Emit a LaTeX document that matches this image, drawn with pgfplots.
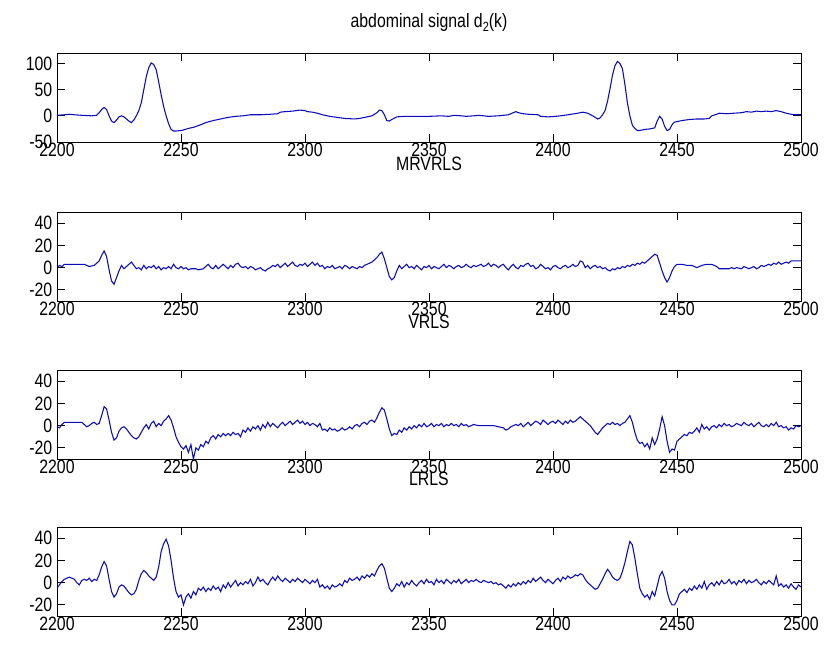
\documentclass[border=0pt]{standalone}
\usepackage{fontspec}
\setmainfont{Liberation Sans}[FakeStretch=0.82]
\usepackage{pgfplots}
\pgfplotsset{compat=1.18}

% one MATLAB-like subplot style
\pgfplotsset{
  sig/.style={
    scale only axis, width=558pt, height=66.75pt,
    anchor=north west, clip mode=individual,
    xmin=2200, xmax=2500, xtick={2200,2250,...,2500},
    tick align=inside, major tick length=6pt,
    tick label style={font=\fontsize{14.5}{14.5}\selectfont},
    xticklabel style={inner sep=1pt, yshift=0.7pt},
    /pgf/number format/assume math mode=true,
    /pgf/number format/1000 sep={},
    axis line style={line width=0.6pt},
    every tick/.style={line width=0.6pt, black},
  },
  trace/.style={color={rgb,255:red,10;green,10;blue,190}, line width=0.8pt, mark=none},
}
\tikzset{ttl/.style={anchor=base, inner sep=0pt, font=\fontsize{14.5}{14.5}\selectfont}}

\begin{document}
\begin{tikzpicture}
% page size of the reference (827x650 px at 0.75pt/px)
\useasboundingbox (-42.75pt,39.75pt) rectangle (577.5pt,-447.75pt);

\begin{axis}[sig, at={(0pt,0pt)}, ymin=-50, ymax=120, ytick={-50,0,50,100}]
\addplot[trace] coordinates {
(2200,1) (2203,2) (2205,3) (2207,2) (2210,1) (2214,0) (2216,1) (2217,6) (2218,12) (2219,16)
(2220,12) (2221,0) (2222,-10) (2223,-13) (2224,-8) (2225,-2) (2226,0) (2227,-2) (2228,-6) (2229,-10)
(2230,-13) (2231,-8) (2232,0) (2233,10) (2234,25) (2235,50) (2236,75) (2237,92) (2238,101) (2239,98)
(2240,88) (2241,65) (2242,40) (2243,18) (2244,0) (2245,-15) (2246,-26) (2247,-29) (2248,-29) (2250,-28)
(2251,-27) (2253,-24) (2255,-22) (2258,-17) (2260,-13) (2263,-9) (2266,-6) (2269,-3) (2272,-1) (2275,0)
(2278,2) (2282,2) (2286,3) (2289,4) (2290,7) (2292,8) (2295,9) (2298,11) (2300,10) (2301,8)
(2303,7) (2305,5) (2307,2) (2310,-1) (2313,-3) (2316,-5) (2320,-6) (2322,-5) (2325,-2) (2327,0)
(2329,6) (2330,11) (2331,10) (2332,2) (2333,-9) (2334,-10) (2335,-7) (2337,-2) (2340,-1) (2345,-1)
(2350,-1) (2355,0) (2358,-1) (2360,1) (2363,0) (2365,-1) (2368,0) (2370,1) (2374,-1) (2378,0)
(2382,2) (2384,6) (2385,8) (2386,6) (2388,4) (2390,3) (2394,2) (2395,-1) (2398,-2) (2401,-1)
(2403,0) (2406,2) (2410,5) (2412,7) (2414,5) (2416,0) (2418,-6) (2419,-4) (2420,2) (2421,10)
(2422,28) (2423,52) (2424,78) (2425,96) (2426,104) (2427,100) (2428,90) (2429,60) (2430,25) (2431,0)
(2432,-18) (2433,-24) (2434,-28) (2435,-28) (2437,-26) (2439,-25) (2441,-23) (2442,-10) (2443,-1) (2444,-6)
(2445,-20) (2446,-28) (2447,-26) (2448,-17) (2449,-12) (2452,-9) (2455,-7) (2458,-6) (2461,-6) (2463,-5)
(2464,0) (2466,3) (2467,5) (2470,4) (2473,5) (2476,6) (2478,8) (2480,7) (2482,9) (2484,8)
(2486,9) (2488,8) (2490,10) (2492,8) (2494,5) (2496,3) (2498,2) (2500,2)
};
\node[ttl] at (rel axis cs:0.5,1) [yshift=19.5pt] {abdominal signal d\raisebox{-0.45ex}{\fontsize{10}{10}\selectfont 2}(k)};
\end{axis}

\begin{axis}[sig, at={(0pt,-119.25pt)}, ymin=-30, ymax=50, ytick={-20,0,20,40}]
\addplot[trace] coordinates {
(2200,0) (2201,2) (2202,1) (2203,3) (2205,3) (2207,3) (2209,3) (2211,3) (2213,1) (2215,2)
(2216,4) (2217,6) (2218,11) (2219,15) (2220,10) (2221,-2) (2222,-12) (2223,-15) (2224,-9) (2225,-3)
(2226,2) (2227,-1) (2228,1) (2229,3) (2230,5) (2231,2) (2232,-1) (2233,0) (2234,-2) (2235,2)
(2236,-1) (2237,1) (2238,0) (2239,2) (2240,-1) (2241,1) (2242,-2) (2243,0) (2244,-1) (2245,1)
(2246,-1) (2247,3) (2248,0) (2249,-1) (2250,1) (2251,-1) (2252,0) (2253,-2) (2254,-1) (2256,-1)
(2257,-2) (2259,-1) (2260,1) (2261,3) (2262,0) (2263,-1) (2264,2) (2265,-1) (2266,1) (2267,3)
(2268,1) (2269,-1) (2270,2) (2271,0) (2272,3) (2273,4) (2274,1) (2275,0) (2276,1) (2277,-1)
(2278,1) (2279,0) (2280,-2) (2281,-1) (2282,0) (2283,-2) (2284,-3) (2285,-1) (2286,0) (2287,2)
(2288,1) (2289,3) (2290,0) (2291,2) (2292,4) (2293,1) (2294,3) (2295,5) (2296,2) (2297,1)
(2298,3) (2299,2) (2300,4) (2301,1) (2302,3) (2303,5) (2304,2) (2305,4) (2306,1) (2307,2)
(2308,-1) (2309,1) (2310,0) (2311,2) (2312,-1) (2313,0) (2314,1) (2315,-1) (2316,2) (2317,1)
(2318,-1) (2319,1) (2320,0) (2321,-1) (2322,1) (2323,0) (2324,2) (2325,3) (2326,4) (2327,5)
(2328,7) (2329,9) (2330,12) (2331,14) (2332,8) (2333,0) (2334,-8) (2335,-11) (2336,-9) (2337,-3)
(2338,2) (2339,-1) (2340,1) (2341,3) (2342,0) (2343,1) (2344,-1) (2345,2) (2346,0) (2347,-2)
(2348,1) (2349,0) (2350,2) (2351,-1) (2352,1) (2353,0) (2354,-1) (2355,1) (2356,3) (2357,0)
(2358,2) (2359,1) (2360,-1) (2361,1) (2362,2) (2363,0) (2364,1) (2365,3) (2366,1) (2367,0)
(2368,2) (2369,1) (2370,2) (2371,3) (2372,1) (2373,2) (2374,4) (2375,1) (2376,3) (2377,2)
(2378,0) (2379,2) (2380,3) (2381,0) (2382,-2) (2383,1) (2384,3) (2385,0) (2386,-1) (2387,2)
(2388,1) (2389,3) (2390,4) (2391,1) (2392,2) (2393,-1) (2394,0) (2395,3) (2396,1) (2397,-1)
(2398,0) (2399,-2) (2400,1) (2401,2) (2402,0) (2403,-1) (2404,1) (2405,2) (2406,0) (2407,1)
(2408,3) (2409,1) (2410,2) (2411,6) (2412,5) (2413,0) (2414,2) (2415,-1) (2416,1) (2417,2)
(2418,0) (2419,1) (2420,-1) (2421,0) (2422,-2) (2423,-3) (2424,-1) (2425,-2) (2426,0) (2427,-1)
(2428,1) (2429,0) (2430,2) (2431,1) (2432,3) (2433,2) (2434,4) (2435,3) (2436,5) (2437,4)
(2438,6) (2439,8) (2440,10) (2441,12) (2442,11) (2443,4) (2444,-3) (2445,-9) (2446,-13) (2447,-9)
(2448,-3) (2449,1) (2450,3) (2452,3) (2454,2) (2456,2) (2457,1) (2458,0) (2459,1) (2460,2)
(2462,3) (2464,3) (2465,2) (2466,1) (2467,-1) (2469,-1) (2471,-1) (2472,0) (2473,-1) (2474,0)
(2476,-1) (2477,1) (2478,0) (2479,-1) (2480,0) (2481,1) (2482,-1) (2483,0) (2484,2) (2485,1)
(2486,2) (2487,3) (2488,2) (2489,4) (2490,3) (2491,5) (2492,3) (2493,4) (2494,5) (2495,4)
(2496,6) (2497,6) (2498,6) (2500,6)
};
\node[ttl] at (rel axis cs:0.5,1) [yshift=31.5pt] {MRVRLS};
\end{axis}

\begin{axis}[sig, at={(0pt,-237.75pt)}, ymin=-30, ymax=50, ytick={-20,0,20,40}]
\addplot[trace] coordinates {
(2200,-1) (2201,-2) (2202,1) (2203,3) (2204,3) (2206,3) (2208,3) (2210,3) (2211,1) (2212,-1)
(2213,0) (2214,2) (2215,3) (2216,1) (2217,2) (2218,9) (2219,17) (2220,15) (2221,5) (2222,-6)
(2223,-13) (2224,-11) (2225,-5) (2226,-2) (2227,-1) (2228,-3) (2229,-6) (2230,-9) (2231,-11) (2232,-12)
(2233,-10) (2234,-6) (2235,-2) (2236,1) (2237,-3) (2238,2) (2239,4) (2240,-1) (2241,2) (2242,0)
(2243,4) (2244,6) (2245,9) (2246,5) (2247,-2) (2248,-10) (2249,-15) (2250,-19) (2251,-21) (2252,-18)
(2253,-24) (2254,-17) (2255,-30) (2256,-20) (2257,-22) (2258,-17) (2259,-19) (2260,-14) (2261,-16) (2262,-11)
(2263,-9) (2264,-12) (2265,-8) (2266,-10) (2267,-7) (2268,-9) (2269,-7) (2270,-9) (2271,-6) (2272,-8)
(2273,-7) (2274,-10) (2275,-4) (2276,-6) (2277,-2) (2278,-5) (2279,-1) (2280,-3) (2281,0) (2282,-4)
(2283,1) (2284,-2) (2285,3) (2286,-1) (2287,2) (2288,0) (2289,-2) (2290,1) (2291,3) (2292,0)
(2293,2) (2294,4) (2295,1) (2296,3) (2297,5) (2298,2) (2299,4) (2300,1) (2301,3) (2302,0)
(2303,2) (2304,1) (2305,-1) (2306,2) (2307,-4) (2308,-3) (2309,-5) (2310,-2) (2311,-4) (2312,-3)
(2313,-5) (2314,-4) (2315,-2) (2316,-4) (2317,-3) (2318,-1) (2319,-3) (2320,0) (2321,1) (2322,-1)
(2323,2) (2324,3) (2325,1) (2326,4) (2327,5) (2328,3) (2329,7) (2330,12) (2331,16) (2332,14)
(2333,6) (2334,-3) (2335,-9) (2336,-7) (2337,-8) (2338,-4) (2339,-6) (2340,-2) (2341,-4) (2342,-1)
(2343,-3) (2344,0) (2345,-2) (2346,1) (2347,-1) (2348,2) (2349,-1) (2350,0) (2351,2) (2352,-1)
(2353,1) (2354,0) (2355,2) (2356,-1) (2357,1) (2358,0) (2359,2) (2360,0) (2361,1) (2362,-1)
(2363,2) (2364,0) (2365,1) (2366,-1) (2367,0) (2368,1) (2370,0) (2372,0) (2374,0) (2376,0)
(2378,-1) (2380,-2) (2381,-4) (2382,-3) (2383,-1) (2384,0) (2385,1) (2386,0) (2387,2) (2388,-1)
(2389,1) (2390,3) (2391,0) (2392,2) (2393,4) (2394,3) (2395,1) (2396,5) (2397,3) (2398,1)
(2399,3) (2400,4) (2401,2) (2402,5) (2403,3) (2404,1) (2405,4) (2406,2) (2407,5) (2408,3)
(2409,4) (2410,6) (2411,8) (2412,6) (2413,4) (2414,2) (2415,0) (2416,-3) (2417,-6) (2418,-8)
(2419,-5) (2420,-2) (2421,0) (2422,2) (2423,1) (2424,3) (2425,1) (2426,2) (2427,0) (2428,2)
(2429,3) (2430,6) (2431,9) (2432,3) (2433,-6) (2434,-13) (2435,-16) (2436,-15) (2437,-19) (2438,-16)
(2439,-21) (2440,-11) (2441,-17) (2442,-12) (2443,-3) (2444,8) (2445,0) (2446,-14) (2447,-24) (2448,-21)
(2449,-22) (2450,-14) (2451,-12) (2452,-10) (2453,-8) (2454,-9) (2455,-6) (2456,-7) (2457,-5) (2458,-2)
(2459,-6) (2460,1) (2461,-3) (2462,-1) (2463,-4) (2464,-1) (2465,0) (2466,-2) (2467,1) (2468,-1)
(2469,2) (2470,0) (2471,1) (2472,-1) (2473,0) (2474,2) (2475,1) (2476,0) (2477,3) (2478,1)
(2479,0) (2480,2) (2481,-1) (2482,1) (2483,3) (2484,0) (2485,-1) (2486,1) (2487,-1) (2488,2)
(2489,0) (2490,3) (2491,-1) (2492,0) (2493,-2) (2494,-1) (2495,-4) (2496,-2) (2497,-3) (2498,0)
(2499,-1) (2500,0)
};
\node[ttl] at (rel axis cs:0.5,1) [yshift=31.5pt] {VRLS};
\end{axis}

\begin{axis}[sig, at={(0pt,-355.5pt)}, ymin=-30, ymax=50, ytick={-20,0,20,40}]
\addplot[trace] coordinates {
(2200,-5) (2201,-2) (2202,1) (2203,3) (2204,4) (2205,5) (2206,4) (2207,3) (2208,0) (2209,-2)
(2210,2) (2211,3) (2212,2) (2213,4) (2214,1) (2215,3) (2216,2) (2217,7) (2218,14) (2219,19)
(2220,15) (2221,3) (2222,-8) (2223,-13) (2224,-10) (2225,-4) (2226,-2) (2227,-3) (2228,-6) (2229,-9)
(2230,-11) (2231,-10) (2232,-6) (2233,2) (2234,8) (2235,11) (2236,9) (2237,6) (2238,4) (2239,2)
(2240,5) (2241,14) (2242,28) (2243,35) (2244,39) (2245,33) (2246,20) (2247,4) (2248,-8) (2249,-13)
(2250,-11) (2251,-20) (2252,-13) (2253,-10) (2254,-14) (2255,-8) (2256,-11) (2257,-5) (2258,-7) (2259,-4)
(2260,-8) (2261,-5) (2262,-7) (2263,-3) (2264,-6) (2265,-4) (2266,-8) (2267,-2) (2268,-5) (2269,0)
(2270,-4) (2271,-1) (2272,2) (2273,-3) (2274,0) (2275,-2) (2276,1) (2277,-1) (2278,3) (2279,-3)
(2280,0) (2281,5) (2282,1) (2283,3) (2284,0) (2285,-2) (2286,2) (2287,5) (2288,2) (2289,6)
(2290,3) (2291,1) (2292,4) (2293,2) (2294,0) (2295,3) (2296,1) (2297,4) (2298,2) (2299,0)
(2300,3) (2301,1) (2302,-1) (2303,2) (2304,0) (2305,3) (2306,-4) (2307,-2) (2308,-5) (2309,-3)
(2310,-6) (2311,-2) (2312,-4) (2313,-3) (2314,-1) (2315,-3) (2316,2) (2317,0) (2318,4) (2319,2)
(2320,3) (2321,5) (2322,2) (2323,6) (2324,4) (2325,7) (2326,5) (2327,8) (2328,6) (2329,11)
(2330,15) (2331,17) (2332,13) (2333,4) (2334,-5) (2335,-8) (2336,-5) (2337,-1) (2338,-3) (2339,1)
(2340,-4) (2341,0) (2342,-2) (2343,2) (2344,-1) (2345,-3) (2346,0) (2347,2) (2348,-1) (2349,3)
(2350,0) (2351,1) (2352,-2) (2353,3) (2354,0) (2355,2) (2356,-1) (2357,3) (2358,1) (2359,-1)
(2360,2) (2361,0) (2362,3) (2363,-1) (2364,1) (2365,3) (2366,0) (2367,2) (2368,1) (2369,3)
(2370,1) (2371,0) (2372,2) (2373,1) (2374,0) (2375,1) (2376,-1) (2377,0) (2378,-2) (2379,-1)
(2380,-3) (2381,-5) (2382,-2) (2383,-4) (2384,-1) (2385,-3) (2386,0) (2387,-2) (2388,1) (2389,-1)
(2390,2) (2391,0) (2392,4) (2393,1) (2394,3) (2395,5) (2396,2) (2397,0) (2398,3) (2399,1)
(2400,-1) (2401,2) (2402,4) (2403,1) (2404,5) (2405,3) (2406,6) (2407,4) (2408,5) (2409,7)
(2410,6) (2411,8) (2412,7) (2413,3) (2414,0) (2415,-2) (2416,-4) (2417,-6) (2418,-5) (2419,-1)
(2420,3) (2421,8) (2422,12) (2423,9) (2424,5) (2425,3) (2426,2) (2427,4) (2428,10) (2429,18)
(2430,28) (2431,37) (2432,34) (2433,22) (2434,8) (2435,-5) (2436,-10) (2437,-13) (2438,-11) (2439,-15)
(2440,-8) (2441,-12) (2442,-3) (2443,6) (2444,10) (2445,4) (2446,-8) (2447,-16) (2448,-20) (2449,-20)
(2450,-16) (2451,-10) (2452,-8) (2453,-6) (2454,-9) (2455,-5) (2456,-7) (2457,-3) (2458,-6) (2459,-2)
(2460,-5) (2461,1) (2462,-6) (2463,-2) (2464,0) (2465,-3) (2466,1) (2467,-2) (2468,2) (2469,-1)
(2470,0) (2471,3) (2472,-1) (2473,1) (2474,-2) (2475,2) (2476,0) (2477,3) (2478,-1) (2479,2)
(2480,0) (2481,1) (2482,3) (2483,0) (2484,-2) (2485,1) (2486,-1) (2487,2) (2488,0) (2489,-2)
(2490,6) (2491,-3) (2492,-1) (2493,-4) (2494,-2) (2495,-5) (2496,-1) (2497,-4) (2498,-6) (2499,-2)
(2500,-4)
};
\node[ttl] at (rel axis cs:0.5,1) [yshift=31.5pt] {LRLS};
\end{axis}
\end{tikzpicture}
\end{document}
